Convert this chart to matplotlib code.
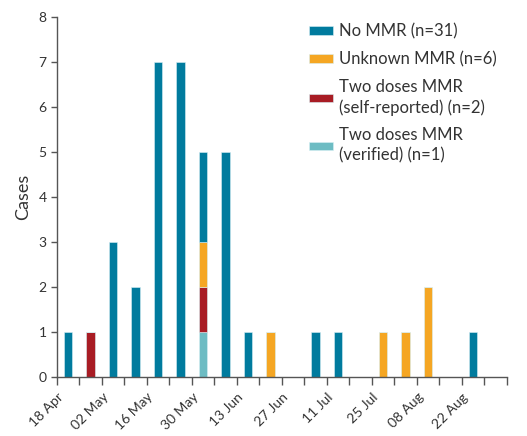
import matplotlib
matplotlib.use('Agg')
import matplotlib.pyplot as plt
import numpy as np

plt.rcParams['font.family'] = ['Lato', 'DejaVu Sans']

# week starting dates (every week, labels every two weeks)
week_labels = ['18 Apr', '02 May', '16 May', '30 May', '13 Jun',
               '27 Jun', '11 Jul', '25 Jul', '08 Aug', '22 Aug']
n_weeks = 20

# cases per week by vaccination status
no_mmr = [1, 0, 3, 2, 7, 7, 2, 5, 1, 0, 0, 1, 1, 0, 0, 0, 0, 0, 1, 0]
unknown = [0, 0, 0, 0, 0, 0, 1, 0, 0, 1, 0, 0, 0, 0, 1, 1, 2, 0, 0, 0]
two_self = [0, 1, 0, 0, 0, 0, 1, 0, 0, 0, 0, 0, 0, 0, 0, 0, 0, 0, 0, 0]
two_verified = [0, 0, 0, 0, 0, 0, 1, 0, 0, 0, 0, 0, 0, 0, 0, 0, 0, 0, 0, 0]

series = [
    ('Two doses MMR\n(verified) (n=1)', two_verified, '#6dbcc3'),
    ('Two doses MMR\n(self-reported) (n=2)', two_self, '#a81c24'),
    ('Unknown MMR (n=6)', unknown, '#f5a623'),
    ('No MMR (n=31)', no_mmr, '#007b9e'),
]

fig = plt.figure(figsize=(5.27, 4.36), dpi=100)
ax = fig.add_axes([0.108, 0.135, 0.854, 0.826])

x = np.arange(n_weeks) + 0.5
bottom = np.zeros(n_weeks)
handles = {}
for label, vals, col in series:
    vals = np.array(vals, dtype=float)
    b = ax.bar(x, vals, width=0.38, bottom=bottom, color=col,
               edgecolor='#d8f0f4', linewidth=0.4, label=label)
    handles[label] = b
    bottom += vals

ax.set_xlim(0, n_weeks)
ax.set_ylim(0, 8)
ax.set_xticks(np.arange(0, n_weeks + 1))
ax.set_xticklabels([week_labels[i // 2] if i % 2 == 0 and i // 2 < len(week_labels) else ''
                    for i in range(n_weeks + 1)],
                   rotation=45, ha='right', rotation_mode='anchor')
ax.set_yticks(range(0, 9))
ax.set_ylabel('Cases', fontsize=13, color='#333333', labelpad=5)

for s in ['top', 'right']:
    ax.spines[s].set_visible(False)
for s in ['left', 'bottom']:
    ax.spines[s].set_color('#555555')
    ax.spines[s].set_linewidth(1.0)
ax.tick_params(axis='both', colors='#555555', labelcolor='#333333',
               labelsize=10, length=4, width=1.0)
ax.tick_params(axis='x', length=6, pad=4)

order = ['No MMR (n=31)', 'Unknown MMR (n=6)',
         'Two doses MMR\n(self-reported) (n=2)', 'Two doses MMR\n(verified) (n=1)']
leg = ax.legend([handles[k] for k in order], order, loc='upper left',
                bbox_to_anchor=(0.56, 0.982), frameon=False, fontsize=12,
                borderpad=0, borderaxespad=0,
                handlelength=1.45, handleheight=0.4, handletextpad=0.36,
                labelspacing=0.7, labelcolor='#333333')
for t in leg.get_texts():
    t.set_linespacing(1.3)

fig.savefig('out.png', dpi=100)
